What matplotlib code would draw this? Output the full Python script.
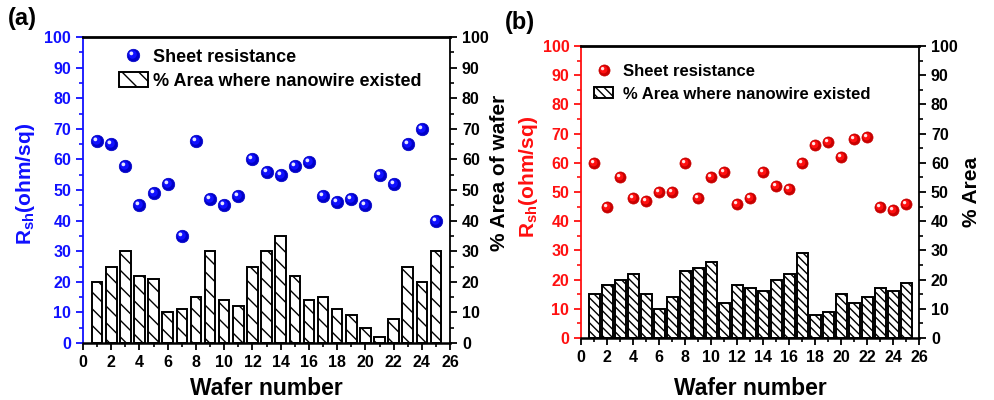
import matplotlib
matplotlib.use('Agg')
import matplotlib.pyplot as plt
import numpy as np
from matplotlib.path import Path
from matplotlib.ticker import MultipleLocator

plt.rcParams['font.family'] = ['Liberation Sans', 'DejaVu Sans']
plt.rcParams['font.weight'] = 'bold'
plt.rcParams['mathtext.fontset'] = 'custom'
plt.rcParams['mathtext.rm'] = 'Liberation Sans:bold'
plt.rcParams['mathtext.bf'] = 'Liberation Sans:bold'
plt.rcParams['hatch.linewidth'] = 1.0

# data
wafer = np.arange(1, 26)
rsh_a = [66, 65, 58, 45, 49, 52, 35, 66, 47, 45, 48, 60, 56, 55, 58, 59,
         48, 46, 47, 45, 55, 52, 65, 70, 40]
area_a = [20, 25, 30, 22, 21, 10, 11, 15, 30, 14, 12, 25, 30, 35, 22, 14,
          15, 11, 9, 5, 2, 8, 25, 20, 30]
rsh_b = [60, 45, 55, 48, 47, 50, 50, 60, 48, 55, 57, 46, 48, 57, 52, 51,
         60, 66, 67, 62, 68, 69, 45, 44, 46]
area_b = [15, 18, 20, 22, 15, 10, 14, 23, 24, 26, 12, 18, 17, 16, 20, 22,
          29, 8, 9, 15, 12, 14, 17, 16, 19]

blue = '#1010ff'
red = '#ff1010'


def offset_circle(cx, cy, r):
    # circle marker path, kept off-centre by a hidden anchor vertex
    c = Path.circle(center=(cx, cy), radius=r)
    verts = np.vstack([[0.5, 0.5], c.vertices])
    codes = np.concatenate([[Path.MOVETO], c.codes])
    return Path(verts, codes)


hl1 = offset_circle(-0.08, 0.08, 0.34)
hl2 = offset_circle(-0.17, 0.17, 0.15)


def spheres(ax, x, y, base, mid, ms):
    h0, = ax.plot(x, y, 'o', ms=ms, color=base, mec=base, mew=0.5,
                  linestyle='none', zorder=5)
    h1, = ax.plot(x, y, linestyle='none', marker=hl1, ms=ms, color=mid, mew=0, zorder=6)
    h2, = ax.plot(x, y, linestyle='none', marker=hl2, ms=ms, color='white', mew=0, alpha=0.9, zorder=7)
    return (h0, h1, h2)


def style(ax, twin, lcolor):
    ax.set_xlim(0, 26)
    ax.set_ylim(0, 100)
    twin.set_ylim(0, 100)
    ax.xaxis.set_major_locator(MultipleLocator(2))
    ax.xaxis.set_minor_locator(MultipleLocator(1))
    for a in (ax, twin):
        a.yaxis.set_major_locator(MultipleLocator(10))
        a.yaxis.set_minor_locator(MultipleLocator(5))
    ax.tick_params(axis='x', which='major', direction='out', length=5, width=1.3,
                   labelsize=11.5, colors='black', top=False)
    ax.tick_params(axis='x', which='minor', direction='out', length=3, width=1.2, top=False)
    ax.tick_params(axis='y', which='major', direction='out', length=5, width=1.3,
                   labelsize=11.5, colors=lcolor, right=False)
    ax.tick_params(axis='y', which='minor', direction='out', length=3, width=1.2,
                   colors=lcolor, right=False)
    twin.tick_params(axis='y', which='major', direction='out', length=5, width=1.3,
                     labelsize=11.5, colors='black')
    twin.tick_params(axis='y', which='minor', direction='out', length=3, width=1.2)
    ax.spines['left'].set_color(lcolor)
    ax.spines['left'].set_linewidth(1.3)
    ax.spines['right'].set_visible(False)
    twin.spines['left'].set_visible(False)
    twin.spines['bottom'].set_visible(False)
    twin.spines['top'].set_visible(False)
    twin.spines['right'].set_linewidth(1.3)
    ax.spines['bottom'].set_linewidth(1.8)
    ax.spines['top'].set_linewidth(2)
    ax.set_zorder(twin.get_zorder() + 1)
    ax.patch.set_visible(False)
    for lab in ax.get_xticklabels() + ax.get_yticklabels() + twin.get_yticklabels():
        lab.set_fontweight('bold')


fig = plt.figure(figsize=(9.95, 4), dpi=100)

# ---- panel (a)
axa = fig.add_axes([0.0834, 0.1425, 0.369, 0.765])
twa = axa.twinx()
bars_a = twa.bar(wafer, area_a, width=0.75, color='white', edgecolor='black',
                 linewidth=1.4, hatch='\\\\')
sph_a = spheres(axa, wafer, rsh_a, '#0000c8', blue, 9)
style(axa, twa, blue)
axa.set_xlabel('Wafer number', fontsize=16.5, fontweight='bold')
axa.xaxis.set_label_coords(0.5, -0.112)
axa.set_ylabel(r'R$_{\mathregular{sh}}$(ohm/sq)', fontsize=15, fontweight='bold', color=blue)
axa.yaxis.set_label_coords(-0.125, 0.52)
twa.set_ylabel('% Area of wafer', fontsize=15, fontweight='bold')
twa.yaxis.set_label_coords(1.109, 0.555)
axa.legend([sph_a, bars_a], ['Sheet resistance', '% Area where nanowire existed'],
           loc='upper left', bbox_to_anchor=(0.098, 0.962), frameon=False,
           handlelength=1.6, handleheight=0.9, handletextpad=0.3,
           labelspacing=0.32, borderpad=0, borderaxespad=0,
           prop={'weight': 'bold', 'size': 13})
fig.text(0.022, 0.955, '(a)', fontsize=17, fontweight='bold', ha='center', va='center')

# ---- panel (b)
axb = fig.add_axes([0.584, 0.155, 0.3397, 0.73])
twb = axb.twinx()
bars_b = twb.bar(wafer, area_b, width=0.85, color='white', edgecolor='black',
                 linewidth=1.4, hatch='\\\\\\\\')
sph_b = spheres(axb, wafer, rsh_b, '#c80000', red, 8)
style(axb, twb, red)
axb.set_xlabel('Wafer number', fontsize=16.5, fontweight='bold')
axb.xaxis.set_label_coords(0.5, -0.135)
axb.set_ylabel(r'R$_{\mathregular{sh}}$(ohm/sq)', fontsize=15, fontweight='bold', color=red)
axb.yaxis.set_label_coords(-0.121, 0.55)
twb.set_ylabel('% Area', fontsize=15, fontweight='bold')
twb.yaxis.set_label_coords(1.127, 0.5)
axb.legend([sph_b, bars_b], ['Sheet resistance', '% Area where nanowire existed'],
           loc='upper left', bbox_to_anchor=(0.038, 0.94), frameon=False,
           handlelength=1.15, handleheight=0.6, handletextpad=0.6,
           labelspacing=0.48, borderpad=0, borderaxespad=0,
           prop={'weight': 'bold', 'size': 12})
fig.text(0.523, 0.945, '(b)', fontsize=17, fontweight='bold', ha='center', va='center')

fig.savefig('out.png', dpi=100)
plt.close(fig)
